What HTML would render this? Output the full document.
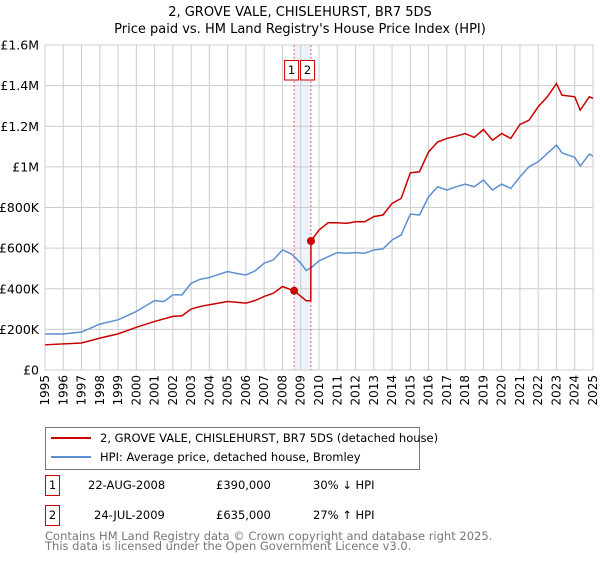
<!DOCTYPE html>
<html><head><meta charset="utf-8"><style>
body{margin:0;background:#fff;font-family:"Liberation Sans","DejaVu Sans",sans-serif;}
svg text{font-family:"DejaVu Sans","Liberation Sans",sans-serif;}
</style></head><body>
<svg id="chart" width="600" height="560">
<text x="300" y="16" text-anchor="middle" font-size="13">2, GROVE VALE, CHISLEHURST, BR7 5DS</text>
<text x="300" y="33" text-anchor="middle" font-size="13">Price paid vs. HM Land Registry's House Price Index (HPI)</text>
<g id="grid"></g><g id="series"></g><g id="axes"></g>
<g>
<rect x="45.5" y="427.5" width="374" height="42" fill="#fff" stroke="#777"/>
<line x1="51" y1="438" x2="91" y2="438" stroke="#cc0000" stroke-width="2"/>
<text x="100" y="442" font-size="11.5">2, GROVE VALE, CHISLEHURST, BR7 5DS (detached house)</text>
<line x1="51" y1="457" x2="91" y2="457" stroke="#5b8fd0" stroke-width="2"/>
<text x="100" y="461" font-size="11.5">HPI: Average price, detached house, Bromley</text>
</g>
<g font-size="11.5">
<rect x="45.5" y="475.5" width="14" height="20" fill="none" stroke="#cc0000"/><text x="52.5" y="489" text-anchor="middle">1</text>
<text x="88" y="489">22-AUG-2008</text><text x="216" y="489">£390,000</text><text x="313" y="489">30% ↓ HPI</text>
<rect x="45.5" y="505.5" width="14" height="20" fill="none" stroke="#cc0000"/><text x="52.5" y="519" text-anchor="middle">2</text>
<text x="94" y="519">24-JUL-2009</text><text x="216" y="519">£635,000</text><text x="313" y="519">27% ↑ HPI</text>
</g>
<text x="45" y="540" font-size="11.5" fill="#777">Contains HM Land Registry data © Crown copyright and database right 2025.</text>
<text x="45" y="550" font-size="11.5" fill="#777">This data is licensed under the Open Government Licence v3.0.</text>
</svg>
<script>
const hpiYears=[1995,1996,1997,1998,1999,2000,2001,2001.5,2002,2002.5,2003,2003.5,2004,2005,2005.5,2006,2006.5,2007,2007.5,2008,2008.5,2009,2009.3,2009.6,2010,2010.5,2011,2011.5,2012,2012.5,2013,2013.5,2014,2014.5,2015,2015.5,2016,2016.5,2017,2017.5,2018,2018.5,2019,2019.5,2020,2020.5,2021,2021.5,2022,2022.5,2023,2023.3,2024,2024.3,2024.8,2025];
const hpiValues=[177,177,187,226,247,288,342,337,370,370,427,447,455,485,475,468,488,526,542,591,571,526,490,506,537,558,578,575,578,575,591,596,640,665,768,763,853,902,886,902,915,902,935,886,915,894,951,1001,1025,1066,1107,1069,1047,1004,1063,1053];
const propYears=[1995,1997,1998,1999,2000,2001,2002,2002.5,2003,2003.5,2004,2005,2006,2006.5,2007,2007.5,2008,2008.64,2009.3,2009.55,2009.56,2010,2010.5,2011,2011.5,2012,2012.5,2013,2013.5,2014,2014.5,2015,2015.5,2016,2016.5,2017,2017.5,2018,2018.5,2019,2019.5,2020,2020.5,2021,2021.5,2022,2022.5,2023,2023.3,2024,2024.3,2024.8,2025];
const propValues=[124,133,157,178,210,239,264,267,300,313,321,337,329,342,362,378,411,390,341,341,635,689,725,725,722,730,730,755,763,820,845,971,976,1074,1123,1140,1151,1164,1145,1184,1131,1164,1140,1209,1230,1296,1345,1410,1353,1345,1279,1345,1337];
const saleYears=[2008.64,2009.56];
const saleValues=[390,635];
const saleLabels=["1","2"];
const yTicks=[0,200,400,600,800,1000,1200,1400,1600];
const yTickLabels=["£0","£200K","£400K","£600K","£800K","£1M","£1.2M","£1.4M","£1.6M"];
const xTicks=[1995,1996,1997,1998,1999,2000,2001,2002,2003,2004,2005,2006,2007,2008,2009,2010,2011,2012,2013,2014,2015,2016,2017,2018,2019,2020,2021,2022,2023,2024,2025];

const X0=45,X1=593,Y0=370,Y1=45;
const xs=y=>X0+(y-1995)/30*(X1-X0);
const ys=v=>Y0-v/1600*(Y0-Y1);
const NS="http://www.w3.org/2000/svg";
function mk(tag,attrs,parent){const e=document.createElementNS(NS,tag);for(const k in attrs)e.setAttribute(k,attrs[k]);parent.appendChild(e);return e;}
const grid=document.getElementById('grid'),ser=document.getElementById('series'),ax=document.getElementById('axes');
const sh=mk('rect',{x:xs(saleYears[0]),y:Y1,width:xs(saleYears[1])-xs(saleYears[0]),height:Y0-Y1,fill:'#eef3fb'},grid);


xTicks.forEach(t=>{
 const l=mk('line',{x1:xs(t),x2:xs(t),y1:Y1,y2:Y0,stroke:'#ccc','stroke-width':1},grid);
 
 
 const tx=mk('text',{x:0,y:0,'font-size':12,'text-anchor':'end',transform:`translate(${xs(t)+4},${Y0+5}) rotate(-90)`},ax);
 tx.textContent=t;
 
 
});
yTicks.forEach((t,i)=>{
 const l=mk('line',{x1:X0,x2:X1,y1:ys(t),y2:ys(t),stroke:'#ccc','stroke-width':1},grid);
 
 
 const tx=mk('text',{x:39,y:ys(t)+4.5,'font-size':12.5,'text-anchor':'end'},ax);
 tx.textContent=yTickLabels[i];
 
 
});
const mid=(xs(saleYears[0])+xs(saleYears[1]))/2;
saleYears.forEach((s,i)=>{
 const l=mk('line',{x1:xs(s),x2:xs(s),y1:Y1,y2:Y0,stroke:'#f06060','stroke-dasharray':'2,2','stroke-width':1},grid);
 
 
 const bx=i==0?mid-18:mid-2;
 const r=mk('rect',{x:bx,y:60.5,width:14,height:19.5,fill:'#fff',stroke:'#cc0000'},ax);
 
 
 const t=mk('text',{x:bx+7,y:74,'font-size':11.5,'text-anchor':'middle'},ax);
 t.textContent=saleLabels[i];
 
 
});
const hp=mk('polyline',{points:hpiYears.map((y,i)=>xs(y)+','+ys(hpiValues[i])).join(' '),fill:'none',stroke:'#5b8fd0','stroke-width':1.5},ser);


const pp=mk('polyline',{points:propYears.map((y,i)=>xs(y)+','+ys(propValues[i])).join(' '),fill:'none',stroke:'#cc0000','stroke-width':1.5},ser);


saleYears.forEach((s,i)=>{
 const c=mk('circle',{cx:xs(s),cy:ys(saleValues[i]),r:4,fill:'#cc0000'},ser);
 
 
});
</script>
</body></html>
